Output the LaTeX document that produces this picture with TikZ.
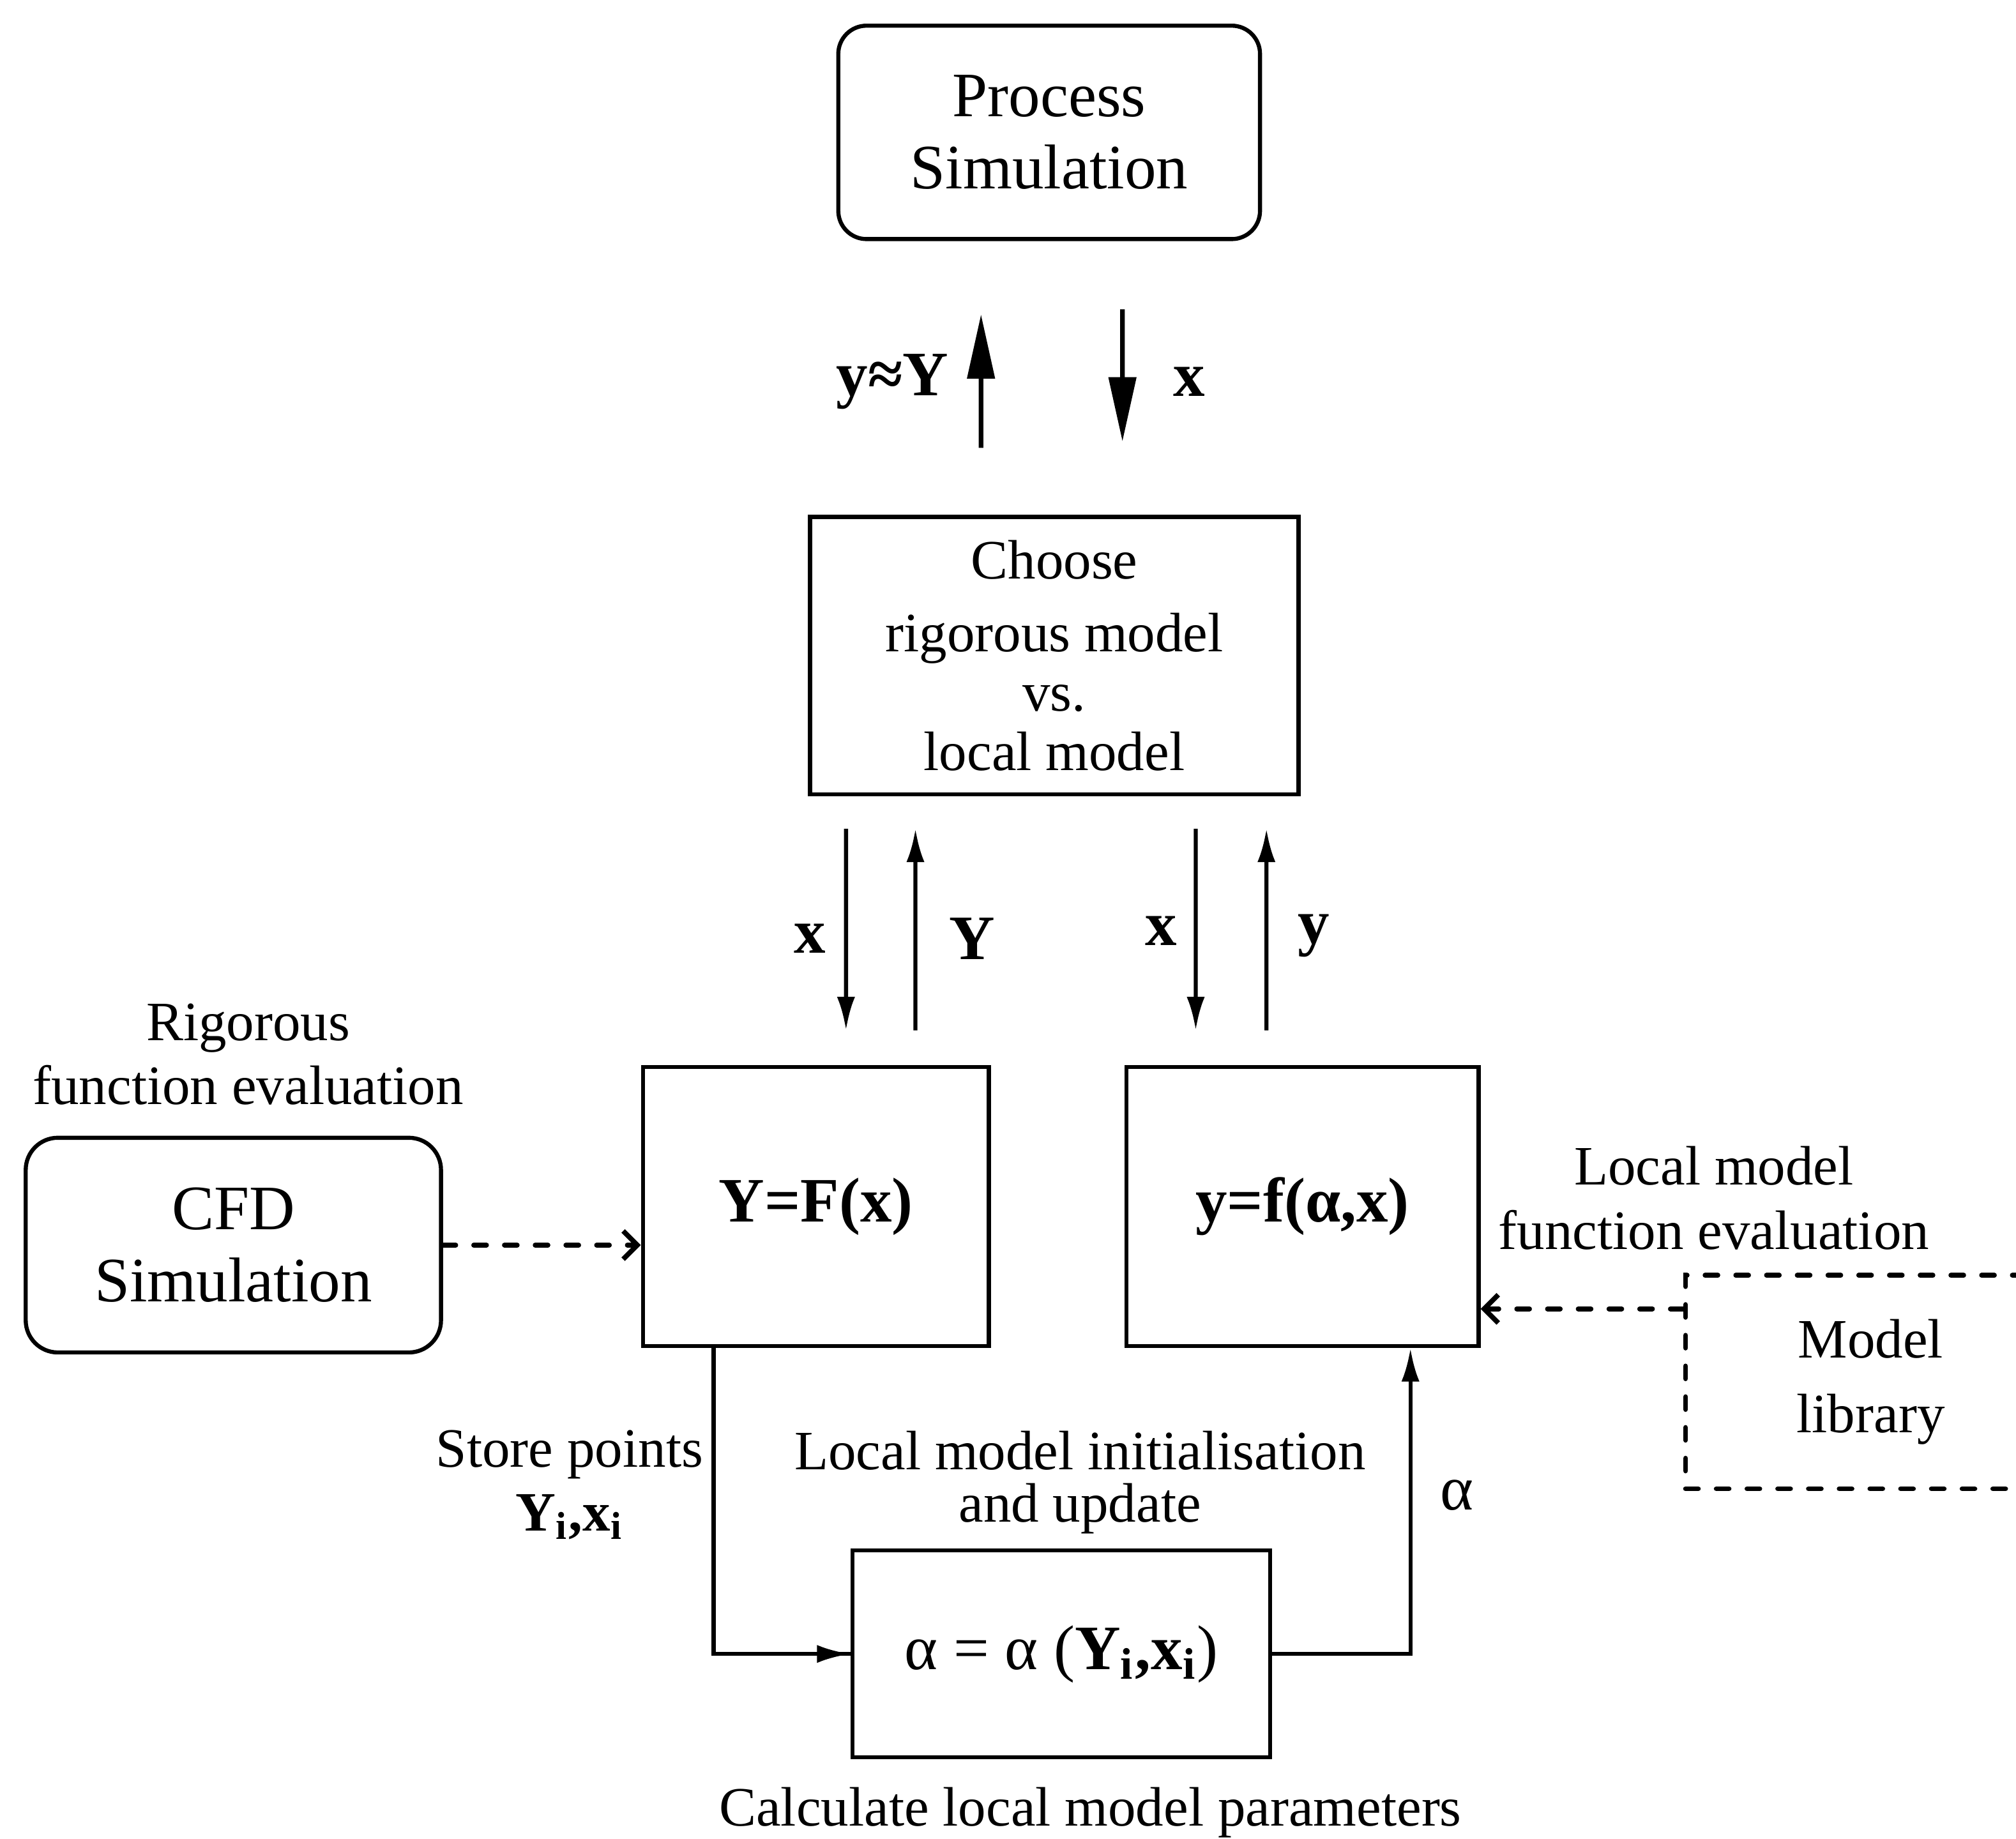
\documentclass[tikz,border=0pt]{standalone}
\usepackage{fontspec}
\setmainfont{Liberation Serif}
\usetikzlibrary{arrows.meta}

\begin{document}
\begin{tikzpicture}[
  box/.style={draw,line width=0.9pt,align=center,font=\fontsize{14}{16}\selectfont},
  rbox/.style={box,rounded corners=0.22cm},
  dbox/.style={draw,line width=1.1pt,dash pattern=on 2.8pt off 4pt,line cap=round,align=center,font=\fontsize{12.3}{16.5}\selectfont},
  lab/.style={align=center,font=\fontsize{12.3}{14.2}\selectfont},
  sym/.style={font=\fontsize{14}{16}\selectfont\bfseries},
  bigarr/.style={line width=1pt,-{Triangle[length=5mm,width=2.1mm]}},
  arr/.style={line width=0.9pt,-{Latex[length=2.6mm,width=1.4mm]}},
  conn/.style={line width=0.9pt},
  dasharr/.style={line width=1.1pt,dash pattern=on 2.8pt off 4pt,line cap=round,-{Straight Barb[length=1.1mm,width=2.2mm]}}
]
\clip (0,0) rectangle (15.68,14.30);
%\draw[step=1cm,gray,very thin] (0,0) grid (16,15); %background grid

% boxes
\node[rbox,minimum width=3.28cm,minimum height=1.66cm] (proc) at (8.16,13.27) {Process\\Simulation};
\node[box,minimum width=3.80cm,minimum height=2.16cm,font=\fontsize{12.3}{13.1}\selectfont] (choose) at (8.20,9.20) {Choose\\[3pt]rigorous model\\vs.\\local model};
\node[box,minimum width=2.69cm,minimum height=2.17cm] (big) at (6.345,4.915) {\bfseries Y=F(x)};
\node[box,minimum width=2.74cm,minimum height=2.17cm] (small) at (10.13,4.915) {\bfseries y=f(α,x)};
\node[rbox,minimum width=3.23cm,minimum height=1.67cm,rounded corners=0.25cm] (cfd) at (1.815,4.615) {CFD\\Simulation};
\node[box,minimum width=3.25cm,minimum height=1.61cm] (alpha) at (8.255,1.435) {α = α ({\bfseries Y\textsubscript{i},x\textsubscript{i}})};
\node[dbox,minimum width=2.88cm,minimum height=1.66cm] (mlib) at (14.55,3.55) {Model\\library};

% labels
\node[sym] (yY) at (6.94,11.33) {y≈Y};
\node[sym] (xtop) at (9.25,11.33) {x};
\node[sym] (xl) at (6.30,7.00) {x};
\node[sym] (Yl) at (7.56,7.00) {Y};
\node[sym] (xr) at (9.03,7.06) {x};
\node[sym] (yr) at (10.22,7.02) {y};
\node[lab] (rig) at (1.93,6.10) {Rigorous\\function evaluation};
\node[lab] (locfe) at (13.33,4.98) {Local model\\function evaluation};
\node[lab] (store) at (4.43,2.75) {Store points\\{\bfseries Y\textsubscript{i},x\textsubscript{i}}};
\node[lab,font=\fontsize{12.3}{11.5}\selectfont] (init) at (8.40,2.77) {Local model initialisation\\and update};
\node[font=\fontsize{14}{16}\selectfont] (al) at (11.33,2.67) {α};
\node[lab] (calc) at (8.48,0.20) {Calculate local model parameters};

% top exchange
\draw[bigarr,shorten <=5.2mm,shorten >=5.7mm] ([xshift=-5.7mm]choose.north) -- ([xshift=-5.3mm]proc.south);
\draw[bigarr,shorten <=5.3mm,shorten >=5.7mm] ([xshift=5.7mm]proc.south) -- ([xshift=5.3mm]choose.north);

% middle exchange
\draw[arr,shorten <=2.5mm,shorten >=2.7mm] ([xshift=-16.2mm]choose.south) -- ([xshift=2.35mm]big.north);
\draw[arr,shorten <=2.7mm,shorten >=2.5mm] ([xshift=7.75mm]big.north) -- ([xshift=-10.8mm]choose.south);
\draw[arr,shorten <=2.5mm,shorten >=2.7mm] ([xshift=11mm]choose.south) -- ([xshift=-8.3mm]small.north);
\draw[arr,shorten <=2.7mm,shorten >=2.5mm] ([xshift=-2.8mm]small.north) -- ([xshift=16.5mm]choose.south);

% update loop
\draw[conn] ([xshift=-7.95mm]big.south) |- (alpha.west);
\draw[arr] ([xshift=-10mm]alpha.west) -- (alpha.west);
\draw[arr] (alpha.east) -| ([xshift=8.4mm]small.south);

% dashed feeds
\draw[dasharr] (cfd.east) -- (cfd.east -| big.west);
\coordinate (mtap) at ([yshift=-2.8mm]mlib.north west);
\draw[dasharr] (mtap) -- (mtap -| small.east);
\end{tikzpicture}
\end{document}
